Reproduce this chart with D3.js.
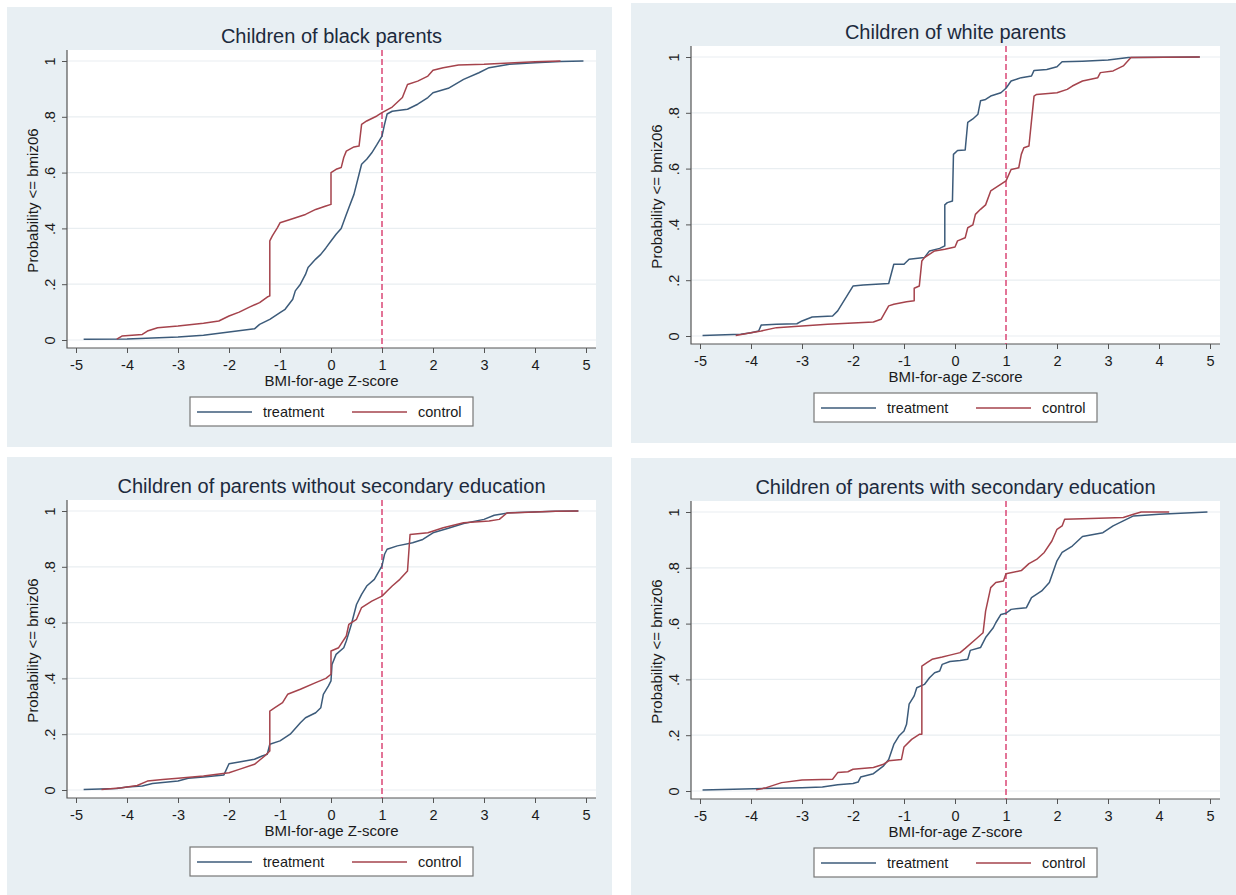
<!DOCTYPE html>
<html>
<head>
<meta charset="utf-8">
<script src="https://cdn.jsdelivr.net/npm/d3@7"></script>
<style>
  body { margin: 0; background: #fff; }
  svg { display: block; font-family: "Liberation Sans", Arial, Helvetica, sans-serif; }
</style>
</head>
<body>
<svg id="chart" width="1236" height="895"></svg>
<script>
// panel titles and shared axis setup
const titles = [
  "Children of black parents",
  "Children of white parents",
  "Children of parents without secondary education",
  "Children of parents with secondary education",
];
const xTicks = [-5, -4, -3, -2, -1, 0, 1, 2, 3, 4, 5];
const yTicks = [0, 0.2, 0.4, 0.6, 0.8, 1];
const yTickLabels = ["0", ".2", ".4", ".6", ".8", "1"];
const seriesNames = ["treatment", "control"];
const xLabel = "BMI-for-age Z-score";
const yLabel = "Probability <= bmiz06";
const cutoff = 1;

// cumulative distributions, [z-score, probability]
const blackTreatment = [[-4.85,0.003],[-4,0.004],[-3,0.011],[-2.5,0.017],[-2,0.029],[-1.5,0.04],[-1.4,0.056],[-1.2,0.074],[-1,0.098],[-0.9,0.11],[-0.75,0.146],[-0.7,0.176],[-0.6,0.2],[-0.5,0.235],[-0.45,0.26],[-0.3,0.29],[-0.2,0.307],[-0.1,0.33],[0,0.355],[0.1,0.379],[0.2,0.4],[0.3,0.45],[0.35,0.474],[0.45,0.522],[0.55,0.594],[0.6,0.63],[0.7,0.648],[0.8,0.671],[0.9,0.7],[1,0.731],[1.05,0.773],[1.1,0.81],[1.2,0.82],[1.5,0.827],[1.7,0.845],[1.9,0.869],[2,0.886],[2.3,0.902],[2.6,0.934],[2.9,0.958],[3.1,0.976],[3.5,0.988],[4,0.994],[4.5,0.998],[4.95,1]];
const blackControl = [[-4.2,0.003],[-4.1,0.014],[-3.7,0.02],[-3.6,0.032],[-3.4,0.044],[-3,0.05],[-2.5,0.06],[-2.2,0.068],[-2,0.086],[-1.8,0.1],[-1.6,0.118],[-1.4,0.134],[-1.25,0.154],[-1.2,0.158],[-1.2,0.355],[-1.15,0.373],[-1.05,0.403],[-1,0.42],[-0.8,0.432],[-0.5,0.45],[-0.3,0.468],[-0.1,0.48],[0,0.486],[0,0.6],[0.1,0.612],[0.2,0.618],[0.25,0.654],[0.3,0.677],[0.45,0.692],[0.55,0.695],[0.6,0.773],[0.7,0.785],[0.9,0.803],[1,0.815],[1.2,0.835],[1.4,0.869],[1.5,0.916],[1.7,0.928],[1.9,0.946],[2,0.967],[2.2,0.976],[2.5,0.986],[3,0.988],[3.5,0.993],[4,0.997],[4.5,1]];
const whiteTreatment = [[-4.95,0.002],[-4.2,0.006],[-4,0.012],[-3.85,0.018],[-3.8,0.039],[-3.5,0.042],[-3.1,0.044],[-3,0.054],[-2.8,0.068],[-2.4,0.072],[-2.3,0.09],[-2.1,0.149],[-2,0.179],[-1.8,0.183],[-1.3,0.188],[-1.2,0.257],[-1,0.257],[-0.9,0.275],[-0.6,0.281],[-0.5,0.305],[-0.3,0.314],[-0.2,0.323],[-0.2,0.47],[-0.15,0.478],[-0.05,0.484],[-0.03,0.651],[0.05,0.665],[0.2,0.667],[0.25,0.766],[0.35,0.778],[0.45,0.795],[0.5,0.843],[0.6,0.848],[0.7,0.86],[0.9,0.872],[1,0.888],[1.1,0.914],[1.3,0.926],[1.5,0.932],[1.55,0.952],[1.8,0.955],[2,0.965],[2.1,0.983],[2.5,0.985],[3,0.989],[3.4,0.998],[4.8,1]];
const whiteControl = [[-4.3,0.002],[-4,0.012],[-3.8,0.018],[-3.5,0.03],[-3,0.036],[-2.5,0.042],[-2,0.047],[-1.6,0.05],[-1.45,0.06],[-1.3,0.108],[-1.2,0.114],[-0.95,0.123],[-0.8,0.126],[-0.8,0.171],[-0.7,0.179],[-0.65,0.269],[-0.6,0.281],[-0.4,0.305],[-0.2,0.311],[0,0.319],[0.05,0.341],[0.2,0.352],[0.25,0.388],[0.35,0.398],[0.4,0.436],[0.5,0.454],[0.6,0.47],[0.7,0.52],[0.85,0.538],[1,0.556],[1.1,0.597],[1.25,0.603],[1.3,0.651],[1.35,0.675],[1.45,0.681],[1.5,0.771],[1.55,0.86],[1.6,0.866],[2,0.872],[2.2,0.884],[2.3,0.896],[2.5,0.914],[2.8,0.926],[2.85,0.944],[3.1,0.95],[3.3,0.968],[3.45,0.998],[4.8,1]];
const noSecTreatment = [[-4.85,0.002],[-4.2,0.005],[-4,0.011],[-3.7,0.014],[-3.5,0.023],[-3.2,0.029],[-3,0.032],[-2.8,0.042],[-2.5,0.047],[-2.1,0.054],[-2,0.094],[-1.8,0.1],[-1.5,0.11],[-1.35,0.122],[-1.25,0.128],[-1.2,0.164],[-1,0.176],[-0.8,0.2],[-0.6,0.241],[-0.5,0.259],[-0.3,0.277],[-0.2,0.295],[-0.15,0.343],[-0.05,0.373],[0,0.391],[0.02,0.45],[0.1,0.486],[0.25,0.51],[0.3,0.534],[0.4,0.594],[0.5,0.665],[0.6,0.701],[0.7,0.731],[0.85,0.755],[1,0.803],[1.05,0.845],[1.1,0.863],[1.3,0.875],[1.6,0.886],[1.8,0.898],[2,0.922],[2.3,0.938],[2.6,0.955],[3,0.97],[3.2,0.985],[3.5,0.994],[4.4,0.999],[4.85,1]];
const noSecControl = [[-4.5,0.002],[-4.1,0.008],[-3.8,0.016],[-3.6,0.032],[-3.3,0.038],[-3,0.042],[-2.5,0.05],[-2,0.062],[-1.8,0.074],[-1.5,0.092],[-1.3,0.122],[-1.2,0.14],[-1.2,0.283],[-1.1,0.295],[-0.95,0.313],[-0.85,0.343],[-0.6,0.361],[-0.3,0.385],[-0.1,0.4],[0,0.415],[0,0.498],[0.15,0.51],[0.3,0.552],[0.35,0.594],[0.5,0.612],[0.6,0.654],[0.8,0.677],[1,0.695],[1.1,0.713],[1.2,0.731],[1.35,0.755],[1.5,0.785],[1.55,0.916],[1.9,0.922],[2.2,0.94],[2.6,0.958],[3.1,0.964],[3.3,0.97],[3.45,0.993],[4.4,0.999],[4.85,1]];
const secTreatment = [[-4.95,0.004],[-3,0.012],[-2.6,0.014],[-2.3,0.022],[-2,0.027],[-1.9,0.032],[-1.85,0.05],[-1.6,0.062],[-1.4,0.09],[-1.3,0.113],[-1.2,0.167],[-1.1,0.197],[-1,0.215],[-0.95,0.239],[-0.9,0.311],[-0.8,0.341],[-0.75,0.37],[-0.6,0.382],[-0.5,0.406],[-0.4,0.424],[-0.3,0.43],[-0.25,0.454],[-0.1,0.464],[0.1,0.468],[0.25,0.472],[0.3,0.504],[0.5,0.514],[0.6,0.55],[0.75,0.585],[0.8,0.603],[0.9,0.633],[1,0.637],[1.1,0.651],[1.4,0.657],[1.5,0.693],[1.7,0.717],[1.85,0.747],[2,0.825],[2.1,0.855],[2.3,0.878],[2.5,0.912],[2.9,0.926],[3.1,0.95],[3.3,0.968],[3.5,0.986],[4,0.992],[4.95,1]];
const secControl = [[-3.9,0.004],[-3.7,0.012],[-3.4,0.03],[-3,0.039],[-2.4,0.042],[-2.3,0.066],[-2.1,0.069],[-2,0.078],[-1.6,0.084],[-1.4,0.096],[-1.3,0.108],[-1.05,0.113],[-1,0.158],[-0.85,0.185],[-0.7,0.203],[-0.65,0.203],[-0.65,0.448],[-0.55,0.46],[-0.45,0.472],[-0.25,0.48],[-0.1,0.487],[0.1,0.496],[0.2,0.511],[0.4,0.543],[0.55,0.567],[0.6,0.645],[0.7,0.729],[0.8,0.747],[0.95,0.753],[1,0.779],[1.3,0.79],[1.45,0.815],[1.6,0.83],[1.75,0.855],[1.9,0.896],[2,0.938],[2.1,0.95],[2.15,0.974],[2.5,0.976],[3.3,0.98],[3.5,0.992],[3.65,1],[4.2,1]];

const colors = { treatment: "#3c5b7a", control: "#a5434c" };

const svg = d3.select("#chart");

// one panel per group, laid out in a 2x2 grid
const panels = [
  { title: titles[0], series: [blackTreatment, blackControl], origin: [7, 7] },
  { title: titles[1], series: [whiteTreatment, whiteControl], origin: [631, 3] },
  { title: titles[2], series: [noSecTreatment, noSecControl], origin: [7, 457] },
  { title: titles[3], series: [secTreatment, secControl], origin: [631, 458] },
];

panels.forEach((p) => ecdfPanel(p));

function ecdfPanel({ title, series, origin, width = 605, height = 440 }) {
  const plot = { left: 60, right: 589, top: 43, bottom: 341 };
  const cx = (plot.left + plot.right) / 2;

  const g = svg
    .append("g")
    .attr("transform", `translate(${origin[0]} ${origin[1]})`);

  // light blue-grey graph region and white plot region
  g.append("rect")
    .attr("width", width)
    .attr("height", height)
    .attr("fill", "#e8eff3");
  g.append("rect")
    .attr("x", plot.left)
    .attr("y", plot.top)
    .attr("width", plot.right - plot.left)
    .attr("height", plot.bottom - plot.top)
    .attr("fill", "#fff");

  // scales
  const x = d3.scaleLinear().domain([-5, 5]).range([69, 579]);
  const y = d3.scaleLinear().domain([0, 1]).range([333, 54]);

  // horizontal grid lines
  g.append("g")
    .selectAll("line")
    .data(yTicks)
    .join("line")
    .attr("x1", plot.left)
    .attr("x2", plot.right)
    .attr("y1", (d) => y(d))
    .attr("y2", (d) => y(d))
    .attr("stroke", "#e9eef1")
    .attr("stroke-width", 1.2);

  // title
  g.append("text")
    .attr("x", cx)
    .attr("y", 29)
    .attr("dy", "0.35em")
    .attr("text-anchor", "middle")
    .attr("font-size", 20)
    .attr("fill", "#1c2a3d")
    .text(title);

  // y-axis, labels turned sideways as in Stata
  const yAxis = g
    .append("g")
    .attr("transform", `translate(${plot.left} 0)`)
    .call(
      d3
        .axisLeft(y)
        .tickValues(yTicks)
        .tickFormat((d, i) => yTickLabels[i])
        .tickSize(5)
        .tickSizeOuter(0)
    );
  yAxis.select(".domain").remove();
  yAxis.attr("font-family", null);
  yAxis.selectAll(".tick line").attr("stroke", "#555");
  yAxis
    .selectAll(".tick text")
    .attr("x", null)
    .attr("dy", "0.35em")
    .attr("text-anchor", "middle")
    .attr("transform", "translate(-17 0) rotate(-90)")
    .attr("font-size", 14.5)
    .attr("fill", "#1a1a1a");

  // x-axis, plain hyphen for negatives
  const xAxis = g
    .append("g")
    .attr("transform", `translate(0 ${plot.bottom})`)
    .call(
      d3
        .axisBottom(x)
        .tickValues(xTicks)
        .tickFormat((d) => String(d))
        .tickSize(5)
        .tickSizeOuter(0)
        .tickPadding(7)
    );
  xAxis.select(".domain").remove();
  xAxis.attr("font-family", null);
  xAxis.selectAll(".tick line").attr("stroke", "#555");
  xAxis.selectAll(".tick text").attr("font-size", 14.5).attr("fill", "#1a1a1a");

  // axis lines along the plot region edges
  g.append("path")
    .attr("d", `M${plot.left},${plot.top}V${plot.bottom}H${plot.right}`)
    .attr("fill", "none")
    .attr("stroke", "#555")
    .attr("stroke-width", 1.2);

  // axis titles
  g.append("text")
    .attr("transform", `translate(26 ${(y(0) + y(1)) / 2}) rotate(-90)`)
    .attr("dy", "0.35em")
    .attr("text-anchor", "middle")
    .attr("font-size", 15)
    .attr("fill", "#1a1a1a")
    .text(yLabel);
  g.append("text")
    .attr("x", cx)
    .attr("y", 374)
    .attr("dy", "0.35em")
    .attr("text-anchor", "middle")
    .attr("font-size", 15)
    .attr("fill", "#1a1a1a")
    .text(xLabel);

  // dashed reference line at z = 1
  g.append("line")
    .attr("x1", x(cutoff))
    .attr("x2", x(cutoff))
    .attr("y1", plot.top)
    .attr("y2", plot.bottom)
    .attr("stroke", "#d83a6c")
    .attr("stroke-width", 1.4)
    .attr("stroke-dasharray", "6,3");

  // the two cumulative curves
  const line = d3
    .line()
    .x((d) => x(d[0]))
    .y((d) => y(d[1]));
  g.append("g")
    .selectAll("path")
    .data(series)
    .join("path")
    .attr("d", line)
    .attr("fill", "none")
    .attr("stroke", (d, i) => colors[seriesNames[i]])
    .attr("stroke-width", 1.5)
    .attr("stroke-linejoin", "round");

  // legend
  const legend = g.append("g").attr("transform", "translate(183 390)");
  legend
    .append("rect")
    .attr("width", 283)
    .attr("height", 29)
    .attr("fill", "#fff")
    .attr("stroke", "#777")
    .attr("stroke-width", 1.2);
  const items = legend
    .selectAll("g")
    .data(seriesNames)
    .join("g")
    .attr("transform", (d, i) => `translate(${i === 0 ? 7 : 162} 0)`);
  items
    .append("line")
    .attr("x1", 0)
    .attr("x2", 55)
    .attr("y1", 15)
    .attr("y2", 15)
    .attr("stroke", (d) => colors[d])
    .attr("stroke-width", 1.4);
  items
    .append("text")
    .attr("x", 66)
    .attr("y", 15)
    .attr("dy", "0.35em")
    .attr("font-size", 14.5)
    .attr("fill", "#1a1a1a")
    .text((d) => d);
}
</script>
</body>
</html>
